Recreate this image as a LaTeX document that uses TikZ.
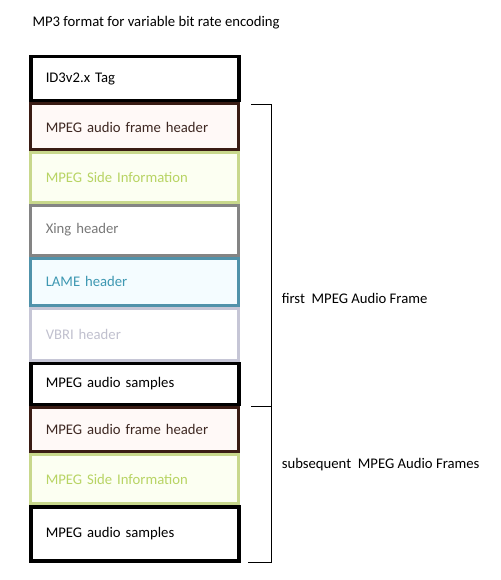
\documentclass[tikz,border=0pt]{standalone}
\usepackage{fontspec}
\setsansfont{Carlito}
\usepackage{tikz}
\usetikzlibrary{positioning,calc}
\definecolor{hdrbrown}{RGB}{58,28,20}
\definecolor{hdrtext}{RGB}{62,40,34}
\definecolor{hdrfill}{RGB}{255,249,247}
\definecolor{sidegreen}{RGB}{200,216,140}
\definecolor{sidetext}{RGB}{184,212,100}
\definecolor{sidefill}{RGB}{252,255,242}
\definecolor{xinggray}{RGB}{132,132,132}
\definecolor{xingtext}{RGB}{120,120,120}
\definecolor{lameblue}{RGB}{80,146,170}
\definecolor{lametext}{RGB}{62,152,178}
\definecolor{lamefill}{RGB}{244,252,255}
\definecolor{vbrigray}{RGB}{198,198,214}
\definecolor{vbritext}{RGB}{192,192,206}
\tikzset{
	every node/.style={font=\sffamily\fontsize{14.7}{17}\selectfont}
}
\tikzset{
	part node/.style={rectangle,draw,line width=3pt,minimum width=208pt,text width=178pt,
		inner xsep=15pt,inner ysep=0pt,align=left},
	tag part/.style={part node,draw=black,line width=3.5pt,text=black},
	hdr part/.style={part node,draw=hdrbrown,fill=hdrfill,text=hdrtext},
	side part/.style={part node,draw=sidegreen,fill=sidefill,text=sidetext},
	xing part/.style={part node,draw=xinggray,text=xingtext},
	lame part/.style={part node,draw=lameblue,fill=lamefill,text=lametext},
	vbri part/.style={part node,draw=vbrigray,text=vbritext},
	smp part/.style={part node,draw=black,line width=3.5pt,text=black},
	bracket/.style={draw=black,line width=0.8pt}
}
\begin{document}
\begin{tikzpicture}[x=1pt,y=-1pt]
      \useasboundingbox (0,0) rectangle (500,580);
      \node[tag part,minimum height=44pt,anchor=north west] (id3) at (29,55) {ID3v2.x Tag};
      \node[hdr part,minimum height=46pt] (hdr1) [below=0pt of id3] {MPEG audio frame header};
      \node[side part,minimum height=49pt] (side1) [below=0pt of hdr1] {MPEG Side Information};
      \node[xing part,minimum height=50pt] (xing) [below=0pt of side1] {Xing header};
      \node[lame part,minimum height=47pt] (lame) [below=0pt of xing] {LAME header};
      \node[vbri part,minimum height=52pt] (vbri) [below=0pt of lame] {VBRI header};
      \node[smp part,minimum height=41pt] (smp1) [below=0pt of vbri] {MPEG audio samples};
      \node[hdr part,minimum height=44pt] (hdr2) [below=0pt of smp1] {MPEG audio frame header};
      \node[side part,minimum height=49pt] (side2) [below=0pt of hdr2] {MPEG Side Information};
      \node[smp part,minimum height=54pt] (smp2) [below=0pt of side2] {MPEG audio samples};
      \node[anchor=west] (title) at ([yshift=32pt]id3.north west) {MP3 format for variable bit rate encoding};
      \draw[bracket] ([xshift=11pt,yshift=-2pt]hdr1.north east) -| ([xshift=31pt]smp1.south east) -- ([xshift=10pt]smp1.south east);
      \draw[bracket] ([xshift=31pt]smp1.south east) |- ([xshift=7pt]smp2.south east);
      \node (first) [right=38pt of lame.south east,yshift=8pt] {first\ \ MPEG Audio Frame};
      \node (subseq) [right=38pt of side2.east,yshift=14pt] {subsequent\ \ MPEG Audio Frames};
    \end{tikzpicture}
\end{document}
